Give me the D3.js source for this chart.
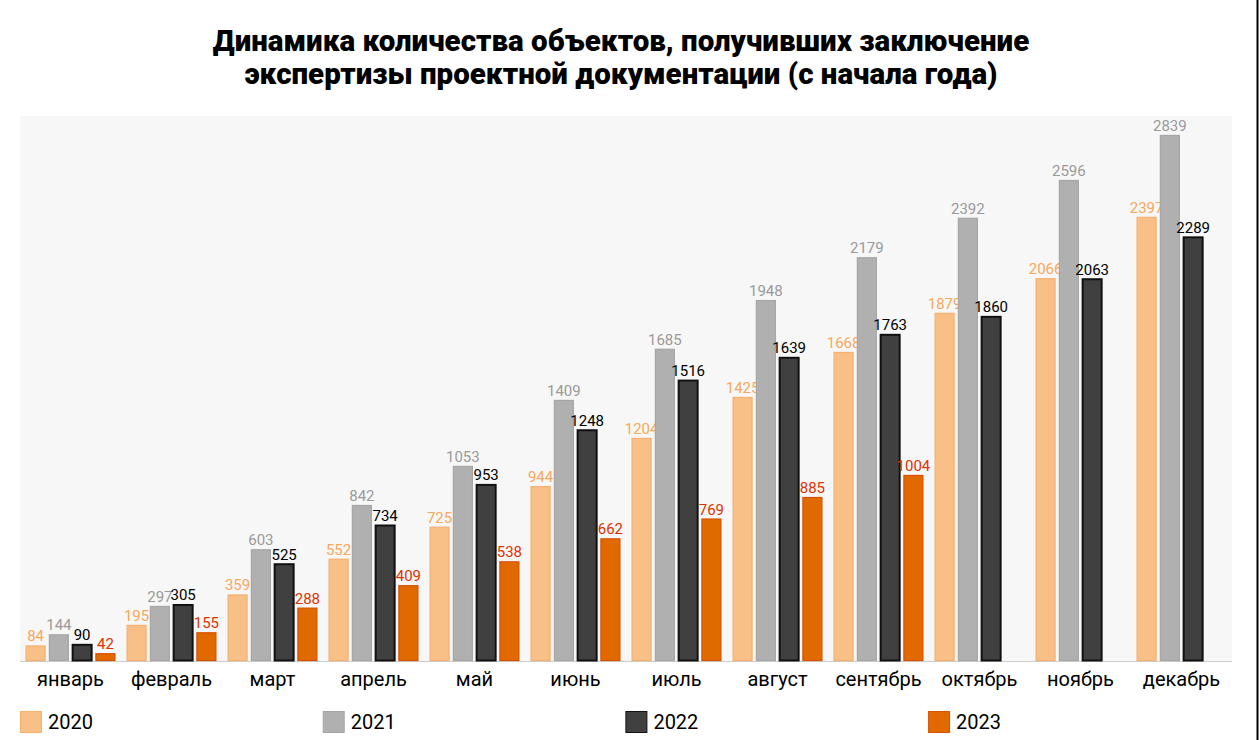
<!DOCTYPE html>
<html><head><meta charset="utf-8">
<script src="https://cdn.jsdelivr.net/npm/d3@7"></script>
<style>html,body{margin:0;padding:0;background:#fff;}svg{display:block;font-family:Roboto,"Noto Sans",sans-serif;}</style>
</head><body>
<svg id="chart" width="1259" height="740"></svg>
<script>
const months = ["январь","февраль","март","апрель","май","июнь","июль","август","сентябрь","октябрь","ноябрь","декабрь"];
const seriesNames = ["2020","2021","2022","2023"];
const v2020 = [84,195,359,552,725,944,1204,1425,1668,1879,2066,2397];
const v2021 = [144,297,603,842,1053,1409,1685,1948,2179,2392,2596,2839];
const v2022 = [90,305,525,734,953,1248,1516,1639,1763,1860,2063,2289];
const v2023 = [42,155,288,409,538,662,769,885,1004,null,null,null];
const titleLines = ["Динамика количества объектов, получивших заключение","экспертизы проектной документации (с начала года)"];

const seriesValues = [v2020,v2021,v2022,v2023];
const fills = ["#f8bf86","#b0b0b0","#404040","#e06a00"];
const strokes = ["#f6b070","#a6a6a6","#111111","#d85000"];
const labelColors = ["#f7a85a","#9a9a9a","#000000","#e03200"];

const svg = d3.select("#chart");
const pLeft = 20, pRight = 1232, pTop = 116, pBottom = 661;

svg.append("rect").attr("x",pLeft).attr("y",pTop).attr("width",pRight-pLeft).attr("height",pBottom-pTop).attr("fill","#f7f7f7");
svg.append("line").attr("x1",1257.5).attr("x2",1257.5).attr("y1",0).attr("y2",740).attr("stroke","#000").attr("stroke-width",2);

const t = svg.append("text").attr("text-anchor","middle").attr("font-weight",900).attr("font-size",29.5).attr("fill","#000");
titleLines.forEach((l,i)=>t.append("tspan").attr("x",621).attr("y",51+i*33).text(l));

const x0 = d3.scaleBand().domain(months).range([pLeft,pRight]).padding(0);
const x1 = d3.scaleBand().domain(seriesNames).range([0,x0.bandwidth()]).paddingInner(0.14).paddingOuter(0.24);
const y = d3.scaleLinear().domain([0,3000]).range([pBottom, pBottom-3000*0.1853]);

svg.append("line").attr("x1",pLeft).attr("x2",pRight).attr("y1",pBottom+0.5).attr("y2",pBottom+0.5).attr("stroke","#cccccc").attr("stroke-width",1);

seriesNames.forEach((s,si)=>{
  const data = months.map((m,i)=>({m, v: seriesValues[si][i]})).filter(d=>d.v!=null);
  const g = svg.append("g");
  g.selectAll("rect").data(data).join("rect")
    .attr("x",d=>x0(d.m)+x1(s)+0.5)
    .attr("y",d=>y(d.v)+0.5)
    .attr("width",x1.bandwidth()-1)
    .attr("height",d=>y(0)-y(d.v)-1)
    .attr("fill",fills[si]).attr("stroke",strokes[si]).attr("stroke-width",si===2?2:1.2);
  g.selectAll("text").data(data).join("text")
    .attr("x",d=>x0(d.m)+x1(s)+x1.bandwidth()/2)
    .attr("y",d=>y(d.v)-4)
    .attr("text-anchor","middle").attr("font-size",15).attr("fill",labelColors[si])
    .text(d=>d.v);
});

svg.append("g").selectAll("text").data(months).join("text")
  .attr("x",d=>x0(d)+x0.bandwidth()/2).attr("y",686)
  .attr("text-anchor","middle").attr("font-size",20).attr("fill","#000").text(d=>d);

const lg = svg.append("g");
seriesNames.forEach((s,si)=>{
  const lx = pLeft + si*302.7;
  lg.append("rect").attr("x",lx+0.5).attr("y",711.5).attr("width",21).attr("height",21)
    .attr("fill",fills[si]).attr("stroke",strokes[si]).attr("stroke-width",1);
  lg.append("text").attr("x",lx+28).attr("y",729).attr("font-size",20).attr("fill","#000").text(s);
});
</script>
</body></html>
